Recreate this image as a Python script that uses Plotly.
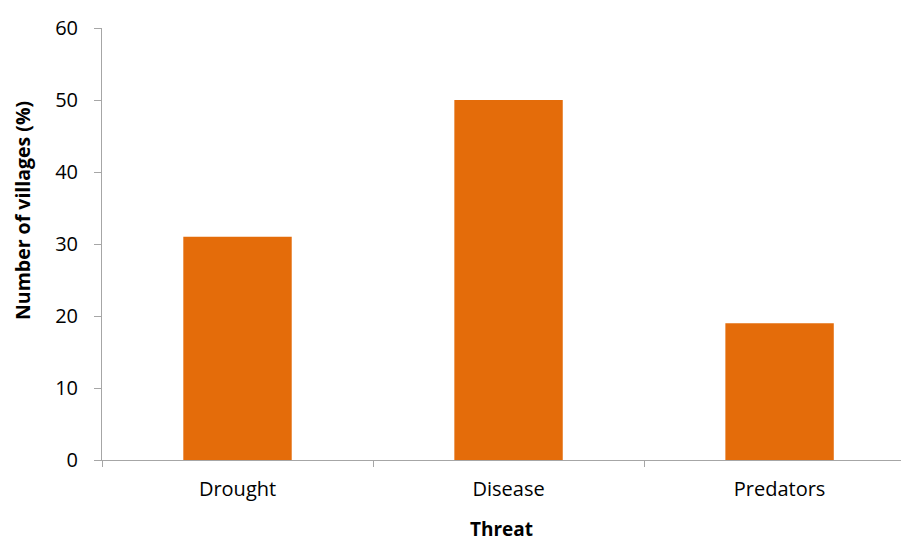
import plotly.graph_objects as go

categories = ["Drought", "Disease", "Predators"]
values = [31, 50, 19]
y_ticks = [0, 10, 20, 30, 40, 50, 60]

fig = go.Figure(go.Bar(x=categories, y=values, marker=dict(color="#E46C0A", line=dict(width=0)), width=0.4))

font = "'Open Sans', sans-serif"
fig.update_layout(
    width=901, height=543,
    margin=dict(l=102, r=0, t=28, b=83),
    paper_bgcolor="white", plot_bgcolor="white",
    font=dict(family=font, size=20, color="black"),
    showlegend=False,
    xaxis=dict(
        range=[-0.5, 2.448], showgrid=False, showline=True, linecolor="#A6A6A6", linewidth=1,
        ticks="outside", tickson="boundaries", ticklen=6, tickcolor="#A6A6A6",
        tickfont=dict(size=20), ticklabelstandoff=11,
    ),
    yaxis=dict(
        range=[0, 60], tickvals=y_ticks, showgrid=False, showline=True, linecolor="#A6A6A6", linewidth=1,
        ticks="outside", ticklen=7, tickcolor="#A6A6A6", zeroline=False,
        tickfont=dict(size=20), ticklabelstandoff=12,
    ),
    annotations=[
        dict(text="<b>Number of villages (%)</b>", textangle=-90, xref="paper", yref="paper",
             x=(22 - 102) / 799, y=(460 - 211) / 432, xanchor="center", yanchor="middle", showarrow=False,
             font=dict(size=19.5)),
        dict(text="<b>Threat</b>", xref="paper", yref="paper",
             x=0.5, y=(460 - 529) / 432, xanchor="center", yanchor="middle", showarrow=False,
             font=dict(size=19)),
    ],
)
fig.write_html(
    "out.html",
    config={"displayModeBar": False},
    post_script="document.documentElement.style.margin='0';document.body.style.margin='0';"
                "document.body.style.overflow='hidden';",
)
